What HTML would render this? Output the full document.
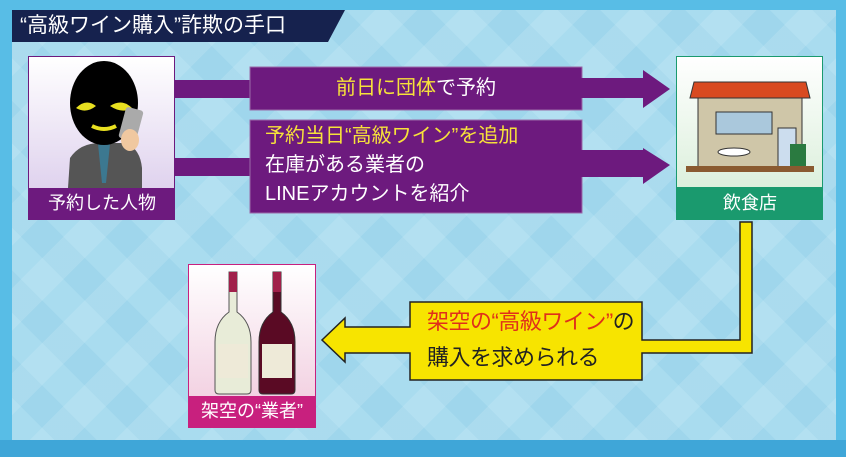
<!DOCTYPE html>
<html><head><meta charset="utf-8"><style>
body{margin:0;width:846px;height:457px;overflow:hidden;font-family:"Liberation Sans","Noto Sans CJK JP",sans-serif;}
.a{position:absolute}
</style></head><body>
<div class="a" style="left:0;top:0;width:846px;height:457px;background:#58bde6"></div>
<div class="a" style="left:12px;top:10px;width:824px;height:430px;background:repeating-linear-gradient(45deg,#a9dcef 0 30px,#9fd6ec 30px 60px),#a9dcef"></div>
<div class="a" style="left:12px;top:10px;width:824px;height:430px;background:repeating-linear-gradient(-45deg,rgba(255,255,255,0.12) 0 30px,rgba(0,0,0,0) 30px 60px)"></div>
<div class="a" style="left:0;top:440px;width:846px;height:17px;background:#3fa6d8"></div>
<svg class="a" style="left:0;top:0" width="846" height="457">
<polygon points="12,10 345,10 328,42 12,42" fill="#16224e"/>
<rect x="175" y="80" width="80" height="18" fill="#6d1a7e"/>
<rect x="250" y="67" width="332" height="43" fill="#6d1a7e" stroke="#9a6aa8" stroke-width="1"/>
<rect x="580" y="78" width="66" height="20" fill="#6d1a7e"/>
<polygon points="643,70 670,89 643,108" fill="#6d1a7e"/>
<rect x="175" y="158" width="80" height="18" fill="#6d1a7e"/>
<rect x="250" y="120" width="332" height="93" fill="#6d1a7e" stroke="#9a6aa8" stroke-width="1"/>
<rect x="580" y="150" width="66" height="27" fill="#6d1a7e"/>
<polygon points="643,148 670,165 643,184" fill="#6d1a7e"/>
<path d="M740,222 L752,222 L752,353 L642,353 L642,380 L410,380 L410,353 L345,353 L345,362 L322,340 L345,318 L345,327 L410,327 L410,302 L642,302 L642,340 L740,340 Z" fill="#f7e400" stroke="#222" stroke-width="1.5"/>
</svg>
<div class="a" style="left:20px;top:11px;color:#fff;font-size:21px;line-height:30px">“高級ワイン購入”詐欺の手口</div>
<div class="a" style="left:28px;top:56px;width:145px;height:162px;border:1.5px solid #6d1a7e;background:linear-gradient(#fff,#d8c8ea)"></div>
<svg class="a" style="left:60px;top:58px" width="90" height="130">
<path d="M8,130 L10,100 Q20,85 40,85 L65,85 Q80,90 82,110 L82,130Z" fill="#555"/>
<polygon points="38,86 50,86 46,125 42,125" fill="#3c7890"/>
<ellipse cx="44" cy="45" rx="34" ry="42" fill="#000"/>
<path d="M16,50 Q26,40 36,48 Q26,56 16,50Z" fill="#e8e020"/>
<path d="M50,48 Q62,40 72,50 Q62,56 50,48Z" fill="#e8e020"/>
<path d="M32,68 Q44,74 56,68" stroke="#e8e020" stroke-width="4" fill="none"/>
<rect x="62" y="50" width="18" height="32" rx="3" fill="#aaa" transform="rotate(15 70 66)"/>
<ellipse cx="70" cy="82" rx="9" ry="11" fill="#f0c8a0"/>
</svg>
<div class="a" style="left:29px;top:188px;width:146px;height:31px;background:#6d1a7e;color:#fff;font-size:18px;text-align:center;line-height:31px">予約した人物</div>
<div class="a" style="left:250px;top:67px;width:332px;height:43px;color:#f7e23a;font-size:20px;text-align:center;line-height:43px">前日に団体<span style="color:#fff">で予約</span></div>
<div class="a" style="left:265px;top:122px;color:#fff;font-size:20px;line-height:29px"><span style="color:#f7e23a">予約当日“高級ワイン”を追加</span><br>在庫がある業者の<br>LINEアカウントを紹介</div>
<div class="a" style="left:676px;top:56px;width:145px;height:162px;border:1.5px solid #1a9a6e;background:linear-gradient(#fff,#d4ecd4)"></div>
<svg class="a" style="left:686px;top:70px" width="130" height="115">
<polygon points="8,12 120,12 124,28 4,28" fill="#d84a20" stroke="#333"/>
<rect x="12" y="28" width="104" height="70" fill="#cfc6a8" stroke="#333"/>
<rect x="30" y="42" width="56" height="22" fill="#aac8dc" stroke="#333"/>
<rect x="92" y="58" width="18" height="40" fill="#cde" stroke="#333"/>
<rect x="104" y="74" width="16" height="28" fill="#2a7a40"/>
<rect x="0" y="96" width="128" height="6" fill="#8a5a30"/>
<ellipse cx="48" cy="82" rx="16" ry="4" fill="#fff" stroke="#333"/>
</svg>
<div class="a" style="left:677px;top:187px;width:146px;height:32px;background:#1a9a6e;color:#fff;font-size:18px;text-align:center;line-height:32px">飲食店</div>
<div class="a" style="left:188px;top:264px;width:126px;height:162px;border:1.5px solid #c8207e;background:linear-gradient(#fff,#f0c8dc)"></div>
<svg class="a" style="left:205px;top:270px" width="100" height="125">
<path d="M24,2 h8 v40 q14,10 14,30 v48 q0,4 -4,4 h-28 q-4,0 -4,-4 v-48 q0,-20 14,-30z" fill="#e8ecd8" stroke="#555"/>
<rect x="24" y="2" width="8" height="20" fill="#a0204a"/>
<path d="M68,2 h8 v40 q14,10 14,30 v48 q0,4 -4,4 h-28 q-4,0 -4,-4 v-48 q0,-20 14,-30z" fill="#5a0a24" stroke="#333"/>
<rect x="68" y="2" width="8" height="20" fill="#a0204a"/>
<rect x="13" y="74" width="30" height="34" fill="#eeead8"/>
<rect x="57" y="74" width="30" height="34" fill="#eeead8"/>
</svg>
<div class="a" style="left:189px;top:396px;width:126px;height:31px;background:#c8207e;color:#fff;font-size:18px;text-align:center;line-height:31px">架空の“業者”</div>
<div class="a" style="left:427px;top:304px;color:#222;font-size:22px;line-height:36px;letter-spacing:-0.5px"><span style="color:#e0301a">架空の“高級ワイン”</span>の<br>購入を求められる</div>
</body></html>
